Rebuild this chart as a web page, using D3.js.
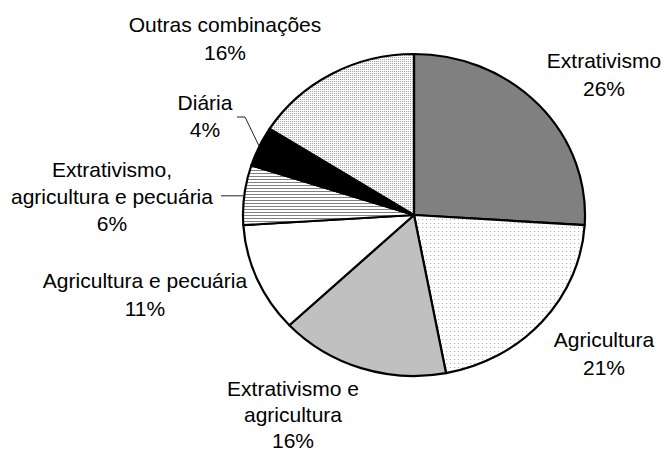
<!DOCTYPE html>
<html>
<head>
<meta charset="utf-8">
<script src="https://cdn.jsdelivr.net/npm/d3@7"></script>
<style>
body { margin: 0; background: #fff; }
text { font-family: "Liberation Sans", Arial, sans-serif; font-size: 21px; fill: #000; }
</style>
</head>
<body>
<svg width="665" height="453"></svg>
<script>
// data
var categories = ["Extrativismo", "Agricultura", "Extrativismo e agricultura", "Agricultura e pecuária",
  "Extrativismo, agricultura e pecuária", "Diária", "Outras combinações"];
var values = [26, 21, 16, 11, 6, 4, 16];
var labelLines = [["Extrativismo"], ["Agricultura"], ["Extrativismo e", "agricultura"], ["Agricultura e pecuária"],
  ["Extrativismo,", "agricultura e pecuária"], ["Diária"], ["Outras combinações"]];

// layout
var fills = ["#808080", "url(#dotsSparse)", "#c0c0c0", "#fff", "url(#hlines)", "#000", "url(#dotsDense)"];
var labelPos = [[604, 68], [604, 347], [293, 396], [145, 288], [112, 177], [205, 110], [225, 32]];
var lineStep = [28, 28, 26, 28, 27, 27, 28];

var svg = d3.select("svg");
var cx = 414, cy = 215, rx = 171, ry = 161;
var k = ry / rx;

// patterns
var defs = svg.append("defs");
var p1 = defs.append("pattern").attr("id", "dotsSparse").attr("patternUnits", "userSpaceOnUse")
  .attr("width", 4).attr("height", 4).attr("patternTransform", "scale(" + k + ",1)");
p1.append("rect").attr("width", 4).attr("height", 4).attr("fill", "#fff");
p1.append("rect").attr("width", 1).attr("height", 1).attr("fill", "#aaa");

var p2 = defs.append("pattern").attr("id", "dotsDense").attr("patternUnits", "userSpaceOnUse")
  .attr("width", 2).attr("height", 2).attr("patternTransform", "scale(" + k + ",1)");
p2.append("rect").attr("width", 2).attr("height", 2).attr("fill", "#fff");
p2.append("rect").attr("width", 1).attr("height", 1).attr("fill", "#999");

var p3 = defs.append("pattern").attr("id", "hlines").attr("patternUnits", "userSpaceOnUse")
  .attr("width", 4).attr("height", 3).attr("patternTransform", "scale(" + k + ",1)");
p3.append("rect").attr("width", 4).attr("height", 3).attr("fill", "#fff");
p3.append("rect").attr("width", 4).attr("height", 1).attr("fill", "#808080");

// pie
var pie = d3.pie().sort(null).value(function(d) { return d; });
var arcs = pie(values);
var arc = d3.arc().innerRadius(0).outerRadius(ry);

svg.append("g")
  .attr("transform", "translate(" + cx + "," + cy + ") scale(" + (rx / ry) + ",1)")
  .selectAll("path")
  .data(arcs)
  .enter().append("path")
    .attr("d", arc)
    .attr("fill", function(d, i) { return fills[i]; })
    .attr("stroke", "#000")
    .attr("stroke-width", 2.2)
    .attr("stroke-linejoin", "round")
    .attr("vector-effect", "non-scaling-stroke");

function edgePoint(d) {
  var a = (d.startAngle + d.endAngle) / 2;
  return [cx + rx * Math.sin(a), cy - ry * Math.cos(a)];
}

// leader lines
var pd = edgePoint(arcs[5]);
svg.append("polyline")
  .attr("points", [[237, 117], [245, 117], pd].map(function(p) { return p.join(","); }).join(" "))
  .attr("fill", "none").attr("stroke", "#222").attr("stroke-width", 1);
var pe = edgePoint(arcs[4]);
svg.append("line")
  .attr("x1", 221).attr("y1", pe[1] + 1).attr("x2", pe[0]).attr("y2", pe[1] + 1)
  .attr("stroke", "#222").attr("stroke-width", 1);

// labels
var labels = svg.append("g");
arcs.forEach(function(d, i) {
  var lines = labelLines[i].concat([values[i] + "%"]);
  var t = labels.append("text")
    .attr("text-anchor", "middle")
    .attr("x", labelPos[i][0])
    .attr("y", labelPos[i][1]);
  lines.forEach(function(s, j) {
    t.append("tspan").attr("x", labelPos[i][0]).attr("dy", j === 0 ? 0 : lineStep[i]).text(s);
  });
});
</script>
</body>
</html>
